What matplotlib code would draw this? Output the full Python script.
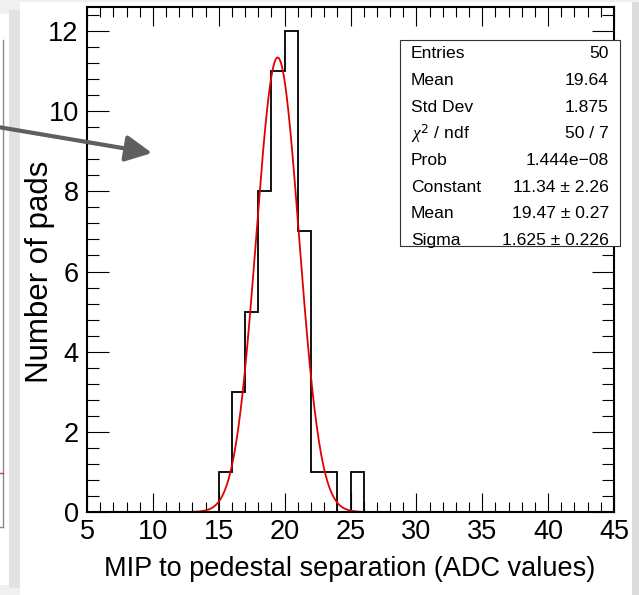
import numpy as np
import matplotlib.pyplot as plt
from matplotlib.patches import Rectangle, FancyArrowPatch
from matplotlib.ticker import MultipleLocator

plt.rcParams['font.family'] = ['Liberation Sans', 'DejaVu Sans']
plt.rcParams['mathtext.fontset'] = 'custom'
plt.rcParams['mathtext.it'] = 'Liberation Serif:italic'

# histogram of MIP-to-pedestal separation per pad
bin_edges = [15, 16, 17, 18, 19, 20, 21, 22, 23, 24, 25, 26]
counts = [1, 3, 5, 8, 11, 12, 7, 1, 1, 0, 1]

# gaussian fit result (from the stats box)
fit_const, fit_mean, fit_sigma = 11.34, 19.47, 1.625
fit_range = (10, 26)

stat_names = ["Entries", "Mean", "Std Dev", r"$\chi^{2}$ / ndf", "Prob",
              "Constant", "Mean", "Sigma"]
stat_values = ["50", "19.64", "1.875", "50 / 7", "1.444e\u221208",
               "11.34 \u00b1 2.26", "19.47 \u00b1 0.27", "1.625 \u00b1 0.226"]

W, H = 639, 595
fig = plt.figure(figsize=(W / 100, H / 100), dpi=100)
fig.patch.set_facecolor("#f0f0f0")


def fx(x):
    return x / W


def fy(y):
    return 1 - y / H


# screenshot decoration: white panels with a soft shadow
fig.add_artist(Rectangle((fx(0), fy(585)), fx(9), (585 - 14) / H,
                         transform=fig.transFigure, facecolor="white",
                         edgecolor="none", zorder=0))
fig.add_artist(Rectangle((fx(9), fy(588)), fx(11), (588 - 10) / H,
                         transform=fig.transFigure, facecolor="#e2e2e2",
                         edgecolor="none", zorder=0))
fig.add_artist(plt.Line2D([fx(3), fx(3)], [fy(40), fy(527)],
                          transform=fig.transFigure, color="#8a8a8a", lw=1))
fig.add_artist(plt.Line2D([fx(0), fx(3)], [fy(527), fy(527)],
                          transform=fig.transFigure, color="#8a8a8a", lw=1))
fig.add_artist(plt.Line2D([fx(0), fx(3)], [fy(473), fy(473)],
                          transform=fig.transFigure, color="#d04040", lw=1))
fig.add_artist(Rectangle((fx(20), 0), fx(612), fy(2),
                         transform=fig.transFigure, facecolor="white",
                         edgecolor="none", zorder=0))
fig.add_artist(Rectangle((fx(632), 0), fx(7), fy(2),
                         transform=fig.transFigure, facecolor="#dcdcdc",
                         edgecolor="none", zorder=0))

ax = fig.add_axes([fx(87), fy(512), fx(614 - 87), (512 - 7) / H])
ax.set_facecolor("white")

ax.stairs(counts, bin_edges, color="black", lw=1.3)
xs = np.linspace(fit_range[0], fit_range[1], 400)
ax.plot(xs, fit_const * np.exp(-0.5 * ((xs - fit_mean) / fit_sigma) ** 2),
        color="#e00000", lw=1.3)

ax.set_xlim(5, 45)
ax.set_ylim(0, 12.6)
ax.set_xticks([5, 10, 15, 20, 25, 30, 35, 40, 45])
ax.set_yticks([0, 2, 4, 6, 8, 10, 12])
ax.xaxis.set_minor_locator(MultipleLocator(1))
ax.yaxis.set_minor_locator(MultipleLocator(0.4))
ax.tick_params(which="both", direction="in", top=True, right=True,
               width=0.8, labelsize=19.5)
ax.tick_params(axis="x", which="major", length=14, pad=5)
ax.tick_params(axis="x", which="minor", length=7)
ax.tick_params(axis="y", which="major", length=16, pad=6)
ax.tick_params(axis="y", which="minor", length=8.5)
for s in ax.spines.values():
    s.set_linewidth(1.5)

fig.text(fx(350), fy(576), "MIP to pedestal separation (ADC values)",
         fontsize=19.5, ha="center", va="baseline")
fig.text(fx(40), fy(272), "Number of pads", fontsize=22.5, rotation=90,
         ha="center", va="center")

# stats box
fig.add_artist(Rectangle((fx(400), fy(246)), fx(220), (246 - 40) / H,
                         transform=fig.transFigure, facecolor="white",
                         edgecolor="#333333", lw=0.8, zorder=5))
for i, (name, val) in enumerate(zip(stat_names, stat_values)):
    yy = fy(54 + 26.6 * i)
    fig.text(fx(411), yy, name, fontsize=12.6, ha="left", va="center", zorder=6)
    fig.text(fx(609), yy, val, fontsize=12.6, ha="right", va="center", zorder=6)

# arrow coming in from the neighbouring panel
fig.add_artist(FancyArrowPatch((fx(-2), fy(127)), (fx(152), fy(153)),
                               transform=fig.transFigure,
                               arrowstyle="-|>,head_length=10,head_width=5",
                               mutation_scale=1.6, color="#5f5f5f", lw=3,
                               shrinkA=0, shrinkB=0, zorder=7))

fig.savefig("out.png", dpi=100, facecolor=fig.get_facecolor())
